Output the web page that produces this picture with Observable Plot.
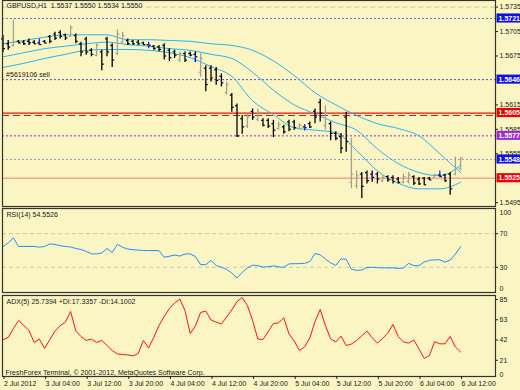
<!DOCTYPE html>
<html><head><meta charset="utf-8">
<script src="https://cdn.jsdelivr.net/npm/d3@7"></script>
<script src="https://cdn.jsdelivr.net/npm/@observablehq/plot@0.6"></script>
<style>
html,body{margin:0;padding:0;background:#fbf5c3;}
#chart{position:relative;width:520px;height:390px;overflow:hidden;background:#fbf5c3;}
#chart svg{position:absolute;left:0;top:0;}
</style></head><body><div id="chart"></div>
<script>
// ---- data: GBPUSD H1 bars, 2 Jul 2012 20:00 .. 6 Jul 2012 12:00 ----
const open  = [1.5696,1.5690,1.5688,1.5693,1.5692,1.5693,1.5692,1.5691,1.5693,1.5699,1.5702,1.5704,1.5701,1.5699,1.5700,1.5690,1.5696,1.5682,1.5676,1.5680,1.5696,1.5688,1.5678,1.5692,1.5694,1.5693,1.5692,1.5691,1.5689,1.5687,1.5686,1.5688,1.5682,1.5680,1.5670,1.5678,1.5678,1.5677,1.5655,1.5660,1.5660,1.5658,1.5650,1.5630,1.5627,1.5614,1.5598,1.5589,1.5607,1.5597,1.5596,1.5596,1.5592,1.5586,1.5588,1.5594,1.5594,1.5586,1.5588,1.5592,1.5607,1.5618,1.5590,1.5592,1.5580,1.5576,1.5600,1.5520,1.5516,1.5530,1.5532,1.5530,1.5530,1.5522,1.5527,1.5526,1.5524,1.5520,1.5521,1.5527,1.5524,1.5525,1.5525,1.5526,1.5529,1.5529,1.5530,1.5530,1.5537];
const high  = [1.5700,1.5694,1.5719,1.5694,1.5694,1.5696,1.5694,1.5694,1.5694,1.5700,1.5704,1.5706,1.5702,1.5712,1.5702,1.5692,1.5698,1.5684,1.5690,1.5682,1.5698,1.5690,1.5707,1.5704,1.5696,1.5694,1.5694,1.5692,1.5690,1.5688,1.5688,1.5690,1.5684,1.5682,1.5680,1.5680,1.5680,1.5680,1.5678,1.5663,1.5663,1.5661,1.5653,1.5643,1.5629,1.5616,1.5602,1.5604,1.5610,1.5610,1.5598,1.5598,1.5596,1.5594,1.5590,1.5596,1.5596,1.5592,1.5590,1.5594,1.5610,1.5622,1.5614,1.5594,1.5582,1.5580,1.5606,1.5574,1.5534,1.5532,1.5534,1.5534,1.5532,1.5528,1.5528,1.5528,1.5526,1.5530,1.5532,1.5528,1.5526,1.5526,1.5526,1.5530,1.5530,1.5530,1.5532,1.5551,1.5550];
const low   = [1.5679,1.5682,1.5686,1.5690,1.5688,1.5688,1.5689,1.5688,1.5690,1.5690,1.5694,1.5696,1.5694,1.5698,1.5690,1.5674,1.5676,1.5674,1.5674,1.5657,1.5674,1.5661,1.5676,1.5690,1.5688,1.5688,1.5688,1.5688,1.5686,1.5682,1.5680,1.5670,1.5668,1.5672,1.5667,1.5667,1.5674,1.5667,1.5649,1.5631,1.5643,1.5639,1.5637,1.5627,1.5606,1.5575,1.5579,1.5586,1.5596,1.5594,1.5588,1.5586,1.5575,1.5584,1.5579,1.5582,1.5584,1.5584,1.5586,1.5586,1.5592,1.5594,1.5584,1.5571,1.5571,1.5555,1.5557,1.5512,1.5512,1.5500,1.5518,1.5520,1.5518,1.5520,1.5520,1.5518,1.5518,1.5518,1.5518,1.5516,1.5516,1.5516,1.5522,1.5526,1.5526,1.5520,1.5504,1.5528,1.5534];
const close = [1.5684,1.5686,1.5692,1.5691,1.5690,1.5691,1.5690,1.5689,1.5691,1.5693,1.5697,1.5699,1.5697,1.5710,1.5693,1.5680,1.5680,1.5677,1.5688,1.5665,1.5680,1.5670,1.5702,1.5700,1.5690,1.5690,1.5690,1.5689,1.5688,1.5684,1.5683,1.5675,1.5673,1.5676,1.5678,1.5670,1.5676,1.5674,1.5672,1.5640,1.5648,1.5645,1.5642,1.5640,1.5612,1.5577,1.5588,1.5600,1.5600,1.5606,1.5590,1.5589,1.5584,1.5591,1.5582,1.5585,1.5587,1.5590,1.5587,1.5588,1.5600,1.5605,1.5605,1.5580,1.5574,1.5562,1.5570,1.5530,1.5528,1.5515,1.5522,1.5526,1.5524,1.5526,1.5523,1.5521,1.5520,1.5527,1.5529,1.5519,1.5518,1.5517,1.5523,1.5529,1.5527,1.5522,1.5512,1.5537,1.5550];

// band lines, read every 4 bars
const bandIdx   = [0,4,8,12,16,20,24,28,32,36,40,44,48,52,56,60,64,68,72,76,80,84,88];
const bandUpper = [1.5690,1.5694,1.5698,1.5701,1.5701,1.5701,1.5695,1.5695,1.5694,1.5693,1.5690,1.5688,1.5682,1.5669,1.5651,1.5630,1.5615,1.5602,1.5592,1.5586,1.5577,1.5555,1.5532];
const bandMid   = [1.5674,1.5679,1.5684,1.5687,1.5690,1.5692,1.5689,1.5687,1.5684,1.5682,1.5677,1.5672,1.5655,1.5633,1.5615,1.5604,1.5593,1.5584,1.5561,1.5543,1.5532,1.5528,1.5541];
const bandLower = [1.5661,1.5666,1.5672,1.5677,1.5682,1.5683,1.5683,1.5682,1.5679,1.5673,1.5662,1.5650,1.5620,1.5603,1.5587,1.5584,1.5581,1.5559,1.5534,1.5519,1.5512,1.5512,1.5520];

// RSI(14), one value per bar
const rsi = [54.4,59.0,65.0,54.8,54.8,54.8,54.8,54.0,54.8,57.8,57.2,55.7,54.8,54.2,52.4,51.2,48.8,46.0,46.0,47.0,52.4,47.6,57.2,53.8,51.7,51.0,50.5,50.0,50.0,50.0,49.8,42.0,43.1,44.6,43.4,45.8,46.0,42.8,33.2,33.2,38.3,32.0,30.1,27.6,23.1,17.4,24.0,29.3,32.5,32.0,30.2,30.8,31.7,30.5,30.0,34.1,34.3,34.4,34.7,36.8,46.4,45.0,39.8,35.3,32.3,40.1,39.5,27.8,26.3,26.8,29.9,30.0,29.6,29.3,29.3,29.3,28.7,29.0,34.7,32.0,32.0,36.2,38.3,38.9,38.9,36.2,38.6,45.8,54.55];

// ADX(5), one value per bar
const adx = [38.6,40.9,50.4,58.8,53.5,48.3,35.7,39.3,29.4,38.8,47.7,53.5,57.0,68.2,47.7,42.0,37.8,39.3,35.7,37.8,32.5,27.3,23.6,23.1,22.6,21.7,24.1,37.8,29.9,41.2,53.5,63.0,71.4,77.1,81.3,69.2,45.1,53.0,67.2,68.7,59.3,57.0,55.1,62.4,69.8,78.7,82.9,74.5,58.8,39.3,38.8,47.2,55.6,56.3,61.6,44.6,37.3,27.3,31.0,40.4,57.7,70.3,53.5,39.6,36.2,42.3,32.5,34.1,37.8,42.7,47.7,40.6,35.0,39.9,45.6,54.6,42.0,36.3,35.0,38.4,28.9,18.9,22.0,36.5,34.3,34.3,42.0,31.0,25.74];

// horizontal levels on price chart
const levelPrices = [1.5721,1.5646,1.5605,1.5602,1.5577,1.5548,1.5525];
const tagPrices   = [1.5721,1.5646,1.5605,1.5577,1.5548,1.5525];
const priceTicks  = [1.5735,1.5705,1.5675,1.5615,1.5585,1.5555,1.5495];
const rsiLevels   = [70,30];
const adxTicks    = [85,63.75,42.5,21.25];
const timeTickIdx    = [0,8,16,24,32,40,48,56,64,72,80,88];
const timeTickLabels = ["2 Jul 2012","3 Jul 04:00","3 Jul 12:00","3 Jul 20:00","4 Jul 04:00","4 Jul 12:00","4 Jul 20:00","5 Jul 04:00","5 Jul 12:00","5 Jul 20:00","6 Jul 04:00","6 Jul 12:00"];
const markerIdx   = [7,28,37,58,71,84];
const markerPrice = [1.5692,1.5688,1.5672,1.5587,1.5528,1.5530];

// ---- build ----
const bars = open.map((o,i)=>({i, o, h:high[i], l:low[i], c:close[i]}));
const bands = bandIdx.map((i,k)=>({i, u:bandUpper[k], m:bandMid[k], lo:bandLower[k]}));
const rsiData = rsi.map((v,i)=>({i,v}));
const adxData = adx.map((v,i)=>({i,v}));
const markers = markerIdx.map((i,k)=>({i, p:markerPrice[k]}));

const UPC = "#a3a38c", DNC = "#000000", BAND = "#27b6ee", INK = "#1a1a1a";
const FONT = "'Liberation Sans', Arial, sans-serif";
const xDom = [-0.096, 94.71];
const common = {width:520, height:390, marginLeft:2, marginRight:25,
  x:{domain:xDom, axis:null, label:null}, style:{background:"transparent", fontFamily:FONT, fontSize:"7px", color:INK, overflow:"visible"}};

const tagColor = ["#1010e8","#1010e8","#ee0000","#9a2ed0","#1010e8","#ee0000"];
const tags = tagPrices.map((p,k)=>({p, col:tagColor[k], t:p.toFixed(4)}));
const tagH = 0.00056;

const main = Plot.plot({...common, marginTop:0, marginBottom:184,
  y:{domain:[1.54903,1.57431], axis:null, label:null},
  marks:[
    Plot.ruleY([priceTicks[0]], {stroke:"#c9c6b4", strokeDasharray:"5,3"}),
    Plot.ruleY([levelPrices[0]], {stroke:"#6b6bd6", strokeDasharray:"2,2"}),
    Plot.ruleY([levelPrices[1]], {stroke:"#5555cc", strokeDasharray:"2,2"}),
    Plot.ruleY([levelPrices[2]], {stroke:"#ee1111", strokeWidth:1.2}),
    Plot.ruleY([levelPrices[3]], {stroke:"#ee1111", strokeWidth:1.2, strokeDasharray:"7,4"}),
    Plot.ruleY([levelPrices[4]], {stroke:"#9a2ed0", strokeDasharray:"2,2"}),
    Plot.ruleY([levelPrices[5]], {stroke:"#9999e0", strokeDasharray:"2,2"}),
    Plot.ruleY([levelPrices[6]], {stroke:"#f2a890", strokeWidth:1.6}),
    Plot.line(bands, {x:"i", y:"u", stroke:BAND, strokeWidth:1, curve:"monotone-x"}),
    Plot.line(bands, {x:"i", y:"m", stroke:BAND, strokeWidth:1, curve:"monotone-x"}),
    Plot.line(bands, {x:"i", y:"lo", stroke:BAND, strokeWidth:1, curve:"monotone-x"}),
    Plot.ruleX(bars, {x:"i", y1:"l", y2:"h", stroke:d=>d.c>=d.o?UPC:DNC, strokeWidth:1.3}),
    Plot.link(bars, {x1:d=>d.i-0.38, x2:"i", y1:"o", y2:"o", stroke:d=>d.c>=d.o?UPC:DNC, strokeWidth:1.2}),
    Plot.link(bars, {x1:"i", x2:d=>d.i+0.38, y1:"c", y2:"c", stroke:d=>d.c>=d.o?UPC:DNC, strokeWidth:1.2}),
    Plot.ruleX(markers, {x:"i", y1:d=>d.p-0.0004, y2:d=>d.p+0.0004, stroke:"#1f1fff", strokeWidth:1.2}),
    Plot.frame({stroke:"#333", strokeWidth:1.2}),
    Plot.axisY({anchor:"right", label:null, ticks:priceTicks, tickFormat:d=>d.toFixed(4), tickSize:2, tickPadding:2, fontSize:7, fill:INK}),
    Plot.rect(tags, {x1:95.0, x2:99.9, y1:d=>d.p-tagH, y2:d=>d.p+tagH, fill:"col"}),
    Plot.text(tags, {x:95.3, y:"p", text:"t", fill:"white", textAnchor:"start", fontSize:7, fontWeight:"bold"}),
    Plot.text(["GBPUSD,H1  1.5537 1.5550 1.5534 1.5550"], {frameAnchor:"top-left", dx:4, dy:3, fontSize:7, fill:INK}),
    Plot.text(["#5619106 sell"], {x:0.6, y:levelPrices[1], dy:-5, textAnchor:"start", fontSize:7, fill:INK})
  ]});

const rsiPlot = Plot.plot({...common, marginTop:208, marginBottom:98,
  y:{domain:[0,100], axis:null, label:null},
  marks:[
    Plot.ruleY(rsiLevels, {stroke:"#cfc8a8", strokeDasharray:"4,3"}),
    Plot.line(rsiData, {x:"i", y:"v", stroke:"#1e90ff", strokeWidth:1}),
    Plot.frame({stroke:"#333", strokeWidth:1.2}),
    Plot.axisY({anchor:"right", label:null, ticks:rsiLevels, tickSize:2, tickPadding:2, fontSize:7, fill:INK}),
    Plot.axisY({anchor:"right", label:null, ticks:[100], tickSize:0, tickPadding:4, dy:4, fontSize:7, fill:INK}),
    Plot.axisY({anchor:"right", label:null, ticks:[0], tickSize:0, tickPadding:4, dy:-4, fontSize:7, fill:INK}),
    Plot.text(["RSI(14) 54.5526"], {frameAnchor:"top-left", dx:4, dy:4, fontSize:7, fill:INK})
  ]});

const lab = new Map(timeTickIdx.map((d,k)=>[d, timeTickLabels[k]]));
const adxPlot = Plot.plot({...common, marginTop:295, marginBottom:14,
  y:{domain:[0,85], axis:null, label:null},
  marks:[
    Plot.line(adxData, {x:"i", y:"v", stroke:"#ff1010", strokeWidth:1}),
    Plot.frame({stroke:"#333", strokeWidth:1.2}),
    Plot.axisY({anchor:"right", label:null, ticks:adxTicks, tickFormat:d=>Math.floor(d), tickSize:2, tickPadding:2, dy:4, fontSize:7, fill:INK}),
    Plot.axisY({anchor:"right", label:null, ticks:[0], tickSize:0, tickPadding:4, dy:-2, fontSize:7, fill:INK}),
    Plot.axisX({anchor:"bottom", label:null, ticks:timeTickIdx, tickFormat:d=>lab.get(d), tickSize:3, tickPadding:2, textAnchor:"start", dx:1, fontSize:7, fill:INK}),
    Plot.text(["ADX(5) 25.7394 +DI:17.3357 -DI:14.1002"], {frameAnchor:"top-left", dx:4, dy:4, fontSize:7, fill:INK}),
    Plot.text(["FreshForex Terminal, \u00a9 2001-2012, MetaQuotes Software Corp."], {frameAnchor:"bottom-left", dx:3, dy:-2, fontSize:7, fill:INK})
  ]});

const el = document.getElementById("chart");
el.append(main, rsiPlot, adxPlot);
</script></body></html>
